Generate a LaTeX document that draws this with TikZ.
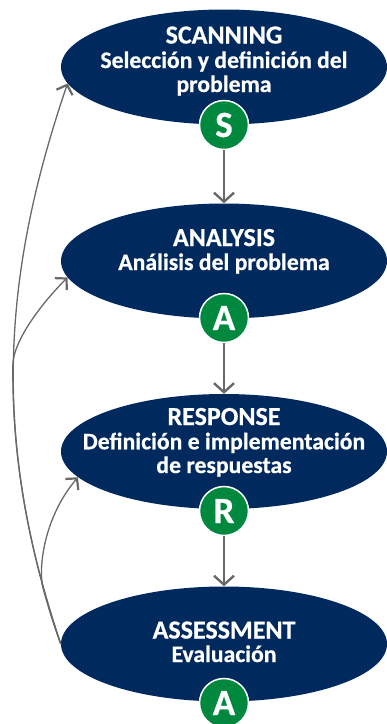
\documentclass[tikz,border=0pt]{standalone}
\usepackage{fontspec}
\setmainfont{Carlito}[BoldFont={Carlito Bold}, BoldFeatures={FakeBold=0.6}]
\usetikzlibrary{shapes.geometric,arrows.meta}
\definecolor{navy}{RGB}{0,41,94}
\definecolor{badgegreen}{RGB}{0,137,62}
\definecolor{arrowgray}{RGB}{105,105,105}
\tikzset{
  ell/.style={ellipse, fill=navy, minimum width=326pt, minimum height=115pt, inner sep=0pt},
  badge/.style={circle, fill=badgegreen, draw=white, line width=1.5pt, minimum size=49pt, inner sep=0pt,
    text=white, font=\fontsize{37}{37}\selectfont\bfseries},
  lbl/.style={text=white, anchor=base, inner sep=0pt, font=\fontsize{23.7}{24}\selectfont\bfseries},
  ttl/.style={lbl, font=\fontsize{26}{26}\selectfont\bfseries},
  varrow/.style={draw=arrowgray, line width=1.8pt, -{Straight Barb[length=9pt,width=20pt,line width=2.4pt]}},
  larrow/.style={draw=arrowgray, line width=1.3pt, -{Straight Barb[length=8pt,width=17pt,line width=2.2pt]}}
}
\begin{document}
\begin{tikzpicture}[x=1pt,y=-1pt]
\useasboundingbox (0,0) rectangle (387,724);
% ellipses
\node[ell] (E1) at (224,67) {};
\node[ell] (E2) at (224,261) {};
\node[ell] (E3) at (224,451.5) {};
\node[ell] (E4) at (224,644) {};
% texts
\node[ttl] (t1a) at (224,43.5) {SCANNING};
\node[lbl] (t1b) at (224,68) {Selección y definición del};
\node[lbl] (t1c) at (224,92) {problema};
\node[ttl] (t2a) at (224,246) {ANALYSIS};
\node[lbl] (t2b) at (224,270) {Análisis del problema};
\node[ttl] (t3a) at (224,425) {RESPONSE};
\node[lbl] (t3b) at (224,449.3) {Definición e implementación};
\node[lbl] (t3c) at (224,473) {de respuestas};
\node[ttl] (t4a) at (224,638.5) {ASSESSMENT};
\node[lbl] (t4b) at (224,662) {Evaluación};
% badges
\node[badge] (B1) at (224,125) {S};
\node[badge] (B2) at (224,318) {A};
\node[badge] (B3) at (224,511) {R};
\node[badge] (B4) at (224,703) {A};
% vertical arrows
\draw[varrow] (B1.south) -- (E2.north);
\draw[varrow] (B2.south) -- (E3.north);
\draw[varrow] (B3.south) -- (E4.north);
% feedback curves
\draw[larrow] (E4.west) .. controls (-6,446) and (-1,284) .. (E1.186);
\draw[larrow] (E4.west) .. controls (27.5,546.5) and (12,455.75) .. (12.875,365)
   .. controls (13.1,340) and (43.8,301) .. (E2.186);
\draw[larrow] (E4.west) .. controls (54.3,626.9) and (48.3,607.2) .. (43,588)
   .. controls (38,568) and (44,517) .. (E3.190);
\end{tikzpicture}
\end{document}
